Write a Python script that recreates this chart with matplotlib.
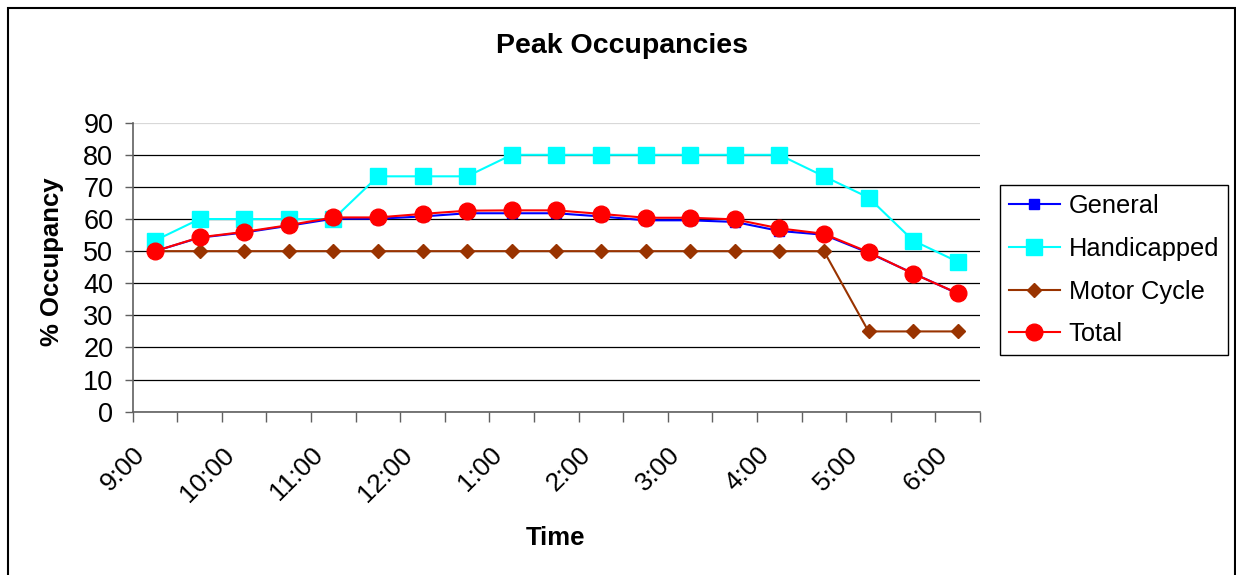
import numpy as np
import matplotlib
matplotlib.use("Agg")
import matplotlib.pyplot as plt
from matplotlib.transforms import ScaledTranslation
from matplotlib.patches import Rectangle

plt.rcParams["font.family"] = ["Liberation Sans", "DejaVu Sans"]

# Half-hour observation times
times = ["9:00", "9:30", "10:00", "10:30", "11:00", "11:30", "12:00", "12:30",
         "1:00", "1:30", "2:00", "2:30", "3:00", "3:30", "4:00", "4:30",
         "5:00", "5:30", "6:00"]

# Occupancy (%) by parking type
general = [50.0, 54.2, 55.8, 57.9, 60.1, 60.1, 60.8, 61.8, 61.8, 61.8,
           60.8, 59.6, 59.6, 59.1, 56.3, 55.1, 49.5, 43.1, 36.8]
handicapped = [53.3, 60.0, 60.0, 60.0, 60.0, 73.3, 73.3, 73.3, 80.0, 80.0,
               80.0, 80.0, 80.0, 80.0, 80.0, 73.3, 66.7, 53.3, 46.7]
motor_cycle = [50.0, 50.0, 50.0, 50.0, 50.0, 50.0, 50.0, 50.0, 50.0, 50.0,
               50.0, 50.0, 50.0, 50.0, 50.0, 50.0, 25.0, 25.0, 25.0]
total = [50.0, 54.3, 56.0, 58.1, 60.5, 60.5, 61.6, 62.6, 62.7, 62.7,
         61.6, 60.4, 60.4, 59.9, 57.1, 55.4, 49.7, 43.0, 36.9]

W, H = 1236, 575
fig = plt.figure(figsize=(W / 100, H / 100), dpi=100)
ax = fig.add_axes([132.7 / W, 1 - 411.7 / H, (980 - 132.7) / W, (411.7 - 122.7) / H])

x = np.arange(len(times))
ax.plot(x, general, color="#0000FF", lw=1.5, marker="s", ms=6.5,
        label="General", zorder=3)
ax.plot(x, handicapped, color="#00FFFF", lw=1.5, marker="s", ms=11.5,
        label="Handicapped", zorder=2)
ax.plot(x, motor_cycle, color="#993300", lw=1.5, marker="D", ms=7.2,
        label="Motor Cycle", zorder=2.5)
ax.plot(x, total, color="#FF0000", lw=1.5, marker="o", ms=12,
        label="Total", zorder=4)

ax.set_xlim(-0.5, len(times) - 0.5)
ax.set_ylim(0, 90)

# Y axis
ax.set_yticks(np.arange(0, 91, 10))
ax.tick_params(axis="y", direction="out", length=6, width=1, color="#606060",
               labelsize=19.5, pad=8)
ax.yaxis.grid(True, color="black", lw=0.9)
ax.set_axisbelow(True)
ax.get_ygridlines()[-1].set_color("#d8d8d8")

# X axis: labels every hour, tick marks between categories
ax.set_xticks(x[::2])
ax.set_xticklabels(times[::2])
ax.set_xticks(np.arange(-0.5, len(times), 1.0), minor=True)
ax.tick_params(axis="x", which="major", length=0, labelsize=19, pad=28.5)
ax.tick_params(axis="x", which="minor", direction="out", length=7, width=1,
               color="#606060")
for lbl in ax.get_xticklabels():
    lbl.set_rotation(45)
    lbl.set_ha("right")
    lbl.set_va("center")
    lbl.set_rotation_mode("anchor")
    lbl.set_transform(lbl.get_transform() +
                      ScaledTranslation(-0.14, 0, fig.dpi_scale_trans))

for side in ("top", "right"):
    ax.spines[side].set_visible(False)
for side in ("left", "bottom"):
    ax.spines[side].set_color("#606060")
    ax.spines[side].set_linewidth(1.2)

ax.set_xlabel("Time", fontsize=18.5, fontweight="bold")
ax.xaxis.label.set_va("baseline")
ax.xaxis.set_label_coords((555 - 132.7) / 847.3, (411.7 - 545) / 289)
ax.set_ylabel("% Occupancy", fontsize=18.5, fontweight="bold")
ax.yaxis.label.set_va("center")
ax.yaxis.set_label_coords((52 - 132.7) / 847.3, (411.7 - 262) / 289)

fig.text(621.5 / W, 1 - 53.3 / H, "Peak Occupancies", ha="center",
         va="baseline", fontsize=20.5, fontweight="bold")

leg = ax.legend(loc="upper left", bbox_to_anchor=(1000 / W, 1 - 185 / H),
                bbox_transform=fig.transFigure, fontsize=18.3, frameon=True,
                fancybox=False, edgecolor="black", framealpha=1,
                borderaxespad=0, borderpad=0.35, labelspacing=0.74,
                handlelength=2.0, handletextpad=0.35)
leg.get_frame().set_linewidth(1)

# Outer chart border
fig.patches.append(Rectangle((7.5 / W, -0.02), (1235 - 7.5) / W,
                             (575 - 7.5) / H + 0.02, transform=fig.transFigure,
                             fill=False, edgecolor="black", lw=1.5))

fig.savefig("out.png", dpi=100)
